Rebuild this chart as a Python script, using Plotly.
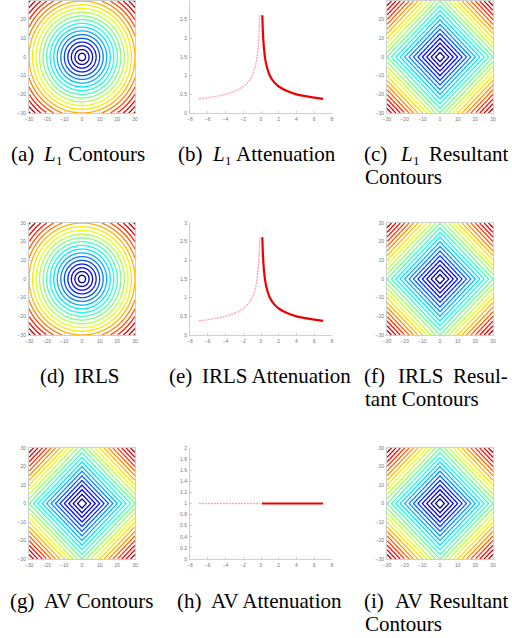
import numpy as np
import plotly.graph_objects as go

W, H = 512, 638

# ---------------- data ----------------
contour_ticks = [-30, -20, -10, 0, 10, 20, 30]
grid_axis = list(np.linspace(-30, 30, 241))
ring_step = 2.0          # contour spacing of the circular plots
diamond_step = 2.5       # contour spacing of the diamond plots

att_xticks = [-8, -6, -4, -2, 0, 2, 4, 6, 8]
att_yticks_l1 = [0, 0.5, 1, 1.5, 2, 2.5, 3]
att_yticks_av = [0, 0.2, 0.4, 0.6, 0.8, 1, 1.2, 1.4, 1.6, 1.8, 2]

# attenuation curve (negative side, dotted pink)
att_neg_x = [-7, -6, -5, -4, -3, -2, -1.5, -1, -0.7, -0.5, -0.35, -0.25, -0.2, -0.15]
att_neg_y = [0.38, 0.41, 0.45, 0.50, 0.58, 0.71, 0.82, 1.0, 1.2, 1.41, 1.69, 2.0, 2.24, 2.62]
# positive side, solid red
att_pos_x = [0.15, 0.2, 0.25, 0.35, 0.5, 0.7, 1, 1.5, 2, 3, 4, 5, 6, 7]
att_pos_y = [2.62, 2.24, 2.0, 1.69, 1.41, 1.2, 1.0, 0.82, 0.71, 0.58, 0.50, 0.45, 0.41, 0.38]
# AV attenuation is flat
av_neg_x = [-7, -0.1]
av_neg_y = [1, 1]
av_pos_x = [0.1, 7]
av_pos_y = [1, 1]

# MATLAB-style jet colormap
jet = [[0.0, "rgb(0,0,128)"], [0.125, "rgb(0,0,255)"], [0.375, "rgb(0,255,255)"],
       [0.625, "rgb(255,255,0)"], [0.875, "rgb(255,0,0)"], [1.0, "rgb(128,0,0)"]]

# ---------------- layout helpers ----------------
def px_x(a, b):
    return [a / W, b / W]

def px_y(top, bottom):
    return [(H - bottom) / H, (H - top) / H]

col_dom = [px_x(29, 135), px_x(190, 332), px_x(387, 493)]
row_dom = [px_y(1, 113), px_y(223, 335), px_y(448, 559)]

tickfont = dict(family="Liberation Sans", size=5, color="#777")

fig = go.Figure()
layout = dict(width=W, height=H, margin=dict(l=0, r=0, t=0, b=0, pad=0),
              paper_bgcolor="white", plot_bgcolor="white",
              showlegend=False, autosize=False, template="none")

gx = np.array(grid_axis)
XX, YY = np.meshgrid(gx, gx)
radial = np.sqrt(XX ** 2 + YY ** 2)
manhattan = np.abs(XX) + np.abs(YY)

panel_kind = {
    (0, 0): "circle", (0, 2): "diamond",
    (1, 0): "circle", (1, 2): "diamond",
    (2, 0): "diamond", (2, 2): "diamond",
}

axis_common = dict(tickfont=tickfont, showgrid=False, zeroline=False, showline=True,
                   linecolor="#cfcfcf", linewidth=1, ticks="inside", ticklen=2,
                   tickcolor="#cfcfcf", automargin=False, ticklabelstandoff=1)

idx = 0
for r in range(3):
    for c in range(3):
        idx += 1
        xa = "x" if idx == 1 else f"x{idx}"
        ya = "y" if idx == 1 else f"y{idx}"
        xkey = "xaxis" if idx == 1 else f"xaxis{idx}"
        ykey = "yaxis" if idx == 1 else f"yaxis{idx}"
        if c in (0, 2):
            kind = panel_kind[(r, c)]
            z = radial if kind == "circle" else manhattan
            step = ring_step if kind == "circle" else diamond_step
            zmax = float(z.max())
            fig.add_trace(go.Contour(
                x=grid_axis, y=grid_axis, z=z,
                xaxis=xa, yaxis=ya,
                colorscale=jet, zmin=step, zmax=zmax,
                contours=dict(coloring="lines", start=step, end=zmax, size=step),
                line=dict(width=1.3), showscale=False, hoverinfo="skip"))
            layout[xkey] = dict(domain=col_dom[c], anchor=ya, range=[-30, 30],
                                tickvals=contour_ticks, mirror=True, **axis_common)
            layout[ykey] = dict(domain=row_dom[r], anchor=xa, range=[-30, 30],
                                tickvals=contour_ticks, mirror=True, **axis_common)
        else:
            if r < 2:
                nx, ny, px_, py_ = att_neg_x, att_neg_y, att_pos_x, att_pos_y
                yr, yt = [0, 3], att_yticks_l1
            else:
                nx, ny, px_, py_ = av_neg_x, av_neg_y, av_pos_x, av_pos_y
                yr, yt = [0, 2], att_yticks_av
            fig.add_trace(go.Scatter(x=nx, y=ny, xaxis=xa, yaxis=ya, mode="lines",
                                     line=dict(color="#ff9fc4", width=1.3, dash="2px,1px",
                                               shape="spline"),
                                     hoverinfo="skip"))
            fig.add_trace(go.Scatter(x=px_, y=py_, xaxis=xa, yaxis=ya, mode="lines",
                                     line=dict(color="#ee0000", width=2.2, shape="spline"),
                                     hoverinfo="skip"))
            layout[xkey] = dict(domain=col_dom[c], anchor=ya, range=[-8, 8],
                                tickvals=att_xticks, **axis_common)
            layout[ykey] = dict(domain=row_dom[r], anchor=xa, range=yr,
                                tickvals=yt, **axis_common)

# ---------------- captions ----------------
cap_font = dict(family="Liberation Serif, Times New Roman, serif", size=21, color="black")
L1 = "<i>L</i>\u2081"
# (text, pixel x, anchor, centre pixel y)
captions = [
    ("(a)", 9, "left", 154), (L1 + " Contours", 41, "left", 154),
    ("(b)", 176, "left", 154), (L1 + " Attenuation", 210, "left", 154),
    ("(c)", 362, "left", 154), (L1, 398, "left", 154), ("Resultant", 510, "right", 154),
    ("Contours", 363, "left", 177),
    ("(d)", 38, "left", 376), ("IRLS", 72, "left", 376),
    ("(e)", 167, "left", 376), ("IRLS Attenuation", 200, "left", 376),
    ("(f)", 362, "left", 376), ("IRLS", 396, "left", 376), ("Resul-", 510, "right", 376),
    ("tant Contours", 363, "left", 399),
    ("(g)", 8, "left", 601), ("AV Contours", 42, "left", 601),
    ("(h)", 175, "left", 601), ("AV Attenuation", 209, "left", 601),
    ("(i)", 362, "left", 601), ("AV", 393, "left", 601), ("Resultant", 510, "right", 601),
    ("Contours", 363, "left", 624),
]
annotations = []
for text, xp, anc, yp in captions:
    annotations.append(dict(text=text, x=xp / W, y=1 - yp / H, xref="paper", yref="paper",
                            xanchor=anc, yanchor="middle", showarrow=False, font=cap_font))
layout["annotations"] = annotations

fig.update_layout(**layout)
fig.write_html("out.html", config={"displayModeBar": False, "staticPlot": True},
               post_script="document.body.style.margin='0';document.body.style.overflow='hidden';")
